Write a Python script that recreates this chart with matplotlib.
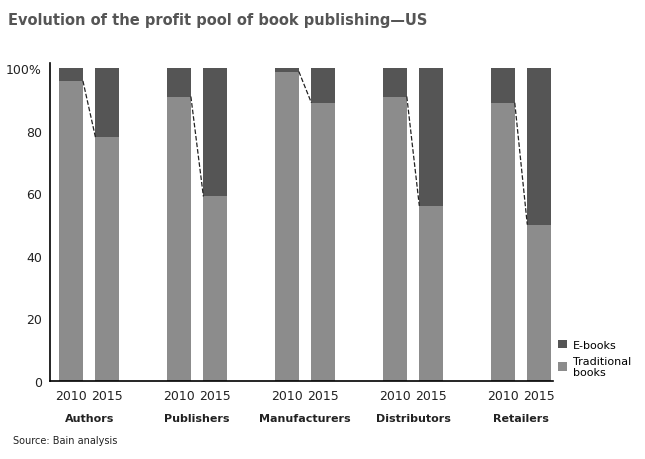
import numpy as np
import matplotlib.pyplot as plt

categories = ["Authors", "Publishers", "Manufacturers", "Distributors", "Retailers"]
years = ["2010", "2015"]
trad_2010 = [96, 91, 99, 91, 89]
trad_2015 = [78, 59, 89, 56, 50]

c_trad = "#8c8c8c"
c_ebook = "#555555"

fig = plt.figure(figsize=(6.45, 4.6), dpi=100)
ax = fig.add_axes([0.078, 0.17, 0.78, 0.69])

group_x = np.arange(len(categories)) * 1.0
off = 0.168
w = 0.22
for i in range(len(categories)):
    for j, t in enumerate([trad_2010[i], trad_2015[i]]):
        x = group_x[i] + (2 * j - 1) * off
        ax.bar(x, t, w, color=c_trad, label="Traditional\nbooks" if i == 0 and j == 0 else None)
        ax.bar(x, 100 - t, w, bottom=t, color=c_ebook, label="E-books" if i == 0 and j == 0 else None)
    x0 = group_x[i] - off + w / 2
    x1 = group_x[i] + off - w / 2
    ax.plot([x0, x1], [trad_2010[i], trad_2015[i]], ls="--", color="#222222", lw=0.9)

ax.set_ylim(0, 101.6)
ax.set_xlim(-0.36, 4.3)
ax.set_yticks([0, 20, 40, 60, 80, 100])
ax.set_yticklabels(["0", "20", "40", "60", "80", "100%"], fontsize=9, color="#222222")
xt = []
xl = []
for g in group_x:
    xt += [g - off, g + off]
    xl += years
ax.set_xticks(xt)
ax.set_xticklabels(xl, fontsize=9, color="#222222")
ax.tick_params(axis="x", length=0, pad=6)
ax.tick_params(axis="y", length=0, pad=6)
for g, c in zip(group_x, categories):
    ax.text(g, -0.10, c, transform=ax.get_xaxis_transform(), ha="center", va="top",
            fontsize=8, fontweight="bold", color="#222222")
ax.spines["top"].set_visible(False)
ax.spines["right"].set_visible(False)
ax.spines["left"].set_linewidth(1.2)
ax.spines["bottom"].set_linewidth(1.2)

h, l = ax.get_legend_handles_labels()
ax.legend(h[::-1], l[::-1], loc="lower left", bbox_to_anchor=(0.99, -0.02), frameon=False,
          fontsize=8, handlelength=0.8, handleheight=0.8, handletextpad=0.5)

fig.text(0.012, 0.945, "Evolution of the profit pool of book publishing\u2014US", fontsize=10.5,
         fontweight="bold", color="#555555")
fig.text(0.02, 0.035, "Source: Bain analysis", fontsize=7, color="#222222")
fig.savefig("out.png", dpi=100)
